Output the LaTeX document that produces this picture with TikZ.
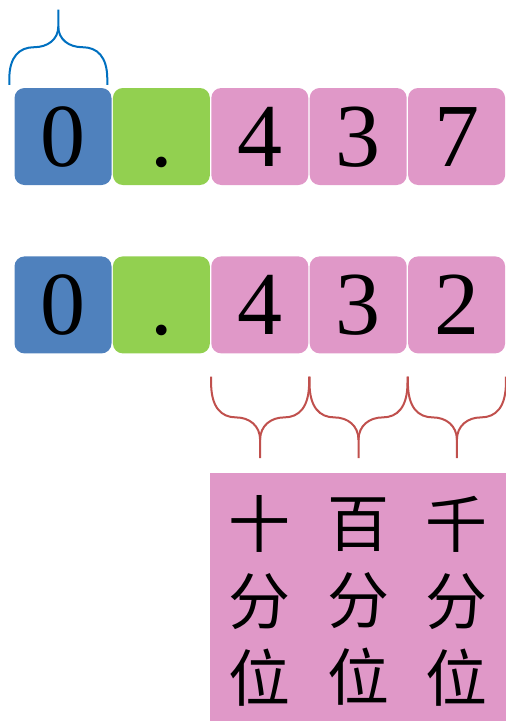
\documentclass[tikz,border=0pt]{standalone}
\usepackage{fontspec}
\usepackage{tikz}
\setmainfont{Liberation Serif}
\newfontfamily\cjk{Noto Sans CJK SC}
\definecolor{intblue}{RGB}{79,129,189}
\definecolor{dotgreen}{RGB}{146,208,80}
\definecolor{decpink}{RGB}{224,152,200}
\definecolor{braceblue}{RGB}{0,112,192}
\definecolor{bracered}{RGB}{192,80,77}
\usetikzlibrary{positioning,calc}

\tikzset{
  digit/.style={rounded corners=10pt, minimum width=97pt, minimum height=97pt,
    inner sep=0pt, text height=60pt, text depth=0pt,
    font=\fontsize{90}{90}\selectfont},
  curly/.pic={
    \draw[pic actions] (0,0) -- (0,-6) .. controls (0,-30) and (10,-40) .. (25,-40)
      .. controls (38,-40) and (49,-48) .. (49,-62) -- (49,-80);
    \draw[pic actions] (98,0) -- (98,-6) .. controls (98,-30) and (88,-40) .. (73,-40)
      .. controls (60,-40) and (49,-48) .. (49,-62);
  }
}

\begin{document}
\begin{tikzpicture}[x=1pt,y=-1pt]

           \useasboundingbox (0,0) rectangle (506,721);

           \node [digit, fill=intblue] (a1) at (63,136.5) {0};
           \node [digit, fill=dotgreen, right=1pt of a1] (a2) {.};
           \node [digit, fill=decpink, right=1pt of a2] (a3) {4};
           \node [digit, fill=decpink, right=1pt of a3] (a4) {3};
           \node [digit, fill=decpink, right=1pt of a4] (a5) {7};

           \node [digit, fill=intblue, below=71pt of a1] (b1) {0};
           \node [digit, fill=dotgreen, right=1pt of b1] (b2) {.};
           \node [digit, fill=decpink, right=1pt of b2] (b3) {4};
           \node [digit, fill=decpink, right=1pt of b3] (b4) {3};
           \node [digit, fill=decpink, right=1pt of b4] (b5) {2};

           \pic [draw=braceblue, line width=2pt, yscale=0.94] at ($(a1.north west)+(-5,-3)$) {curly};

           \pic [draw=bracered, line width=2pt, yscale=-1.02] at ($(b3.south west)+(0,23)$) {curly};
           \pic [draw=bracered, line width=2pt, yscale=-1.02] at ($(b4.south west)+(0,23)$) {curly};
           \pic [draw=bracered, line width=2pt, yscale=-1.02] at ($(b5.south west)+(0,23)$) {curly};

           \node [fill=decpink, anchor=north west, minimum width=296pt, minimum height=248pt,
             inner sep=0pt] (places) at (210,473) {};

           \node [font=\cjk\fontsize{62}{77}\selectfont, align=center] (p3) at ($(b3.center |- places.center)+(0,4)$) {十\\分\\位};
           \node [font=\cjk\fontsize{62}{77}\selectfont, align=center] (p4) at ($(b4.center |- places.center)+(0,4)$) {百\\分\\位};
           \node [font=\cjk\fontsize{62}{77}\selectfont, align=center] (p5) at ($(b5.center |- places.center)+(0,4)$) {千\\分\\位};

\end{tikzpicture}
\end{document}
